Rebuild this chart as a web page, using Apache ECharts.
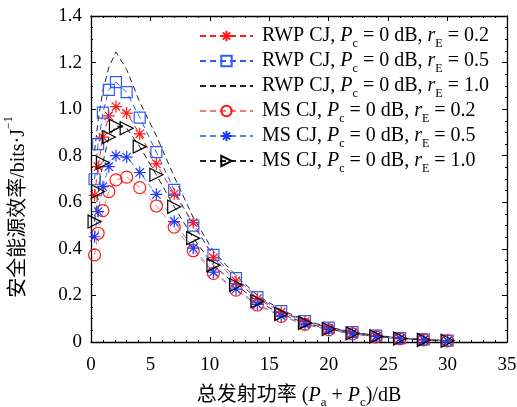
<!DOCTYPE html>
<html lang="zh" style="height: 100%">
<head>
<meta charset="utf-8">
<title>安全能源效率</title>
</head>
<body style="height: 100%; margin: 0; background: #fff">
<div id="container" style="width: 517px; height: 407px"></div>

<script type="text/javascript" src="https://cdn.jsdelivr.net/npm/echarts/dist/echarts.min.js"></script>

<script type="text/javascript">

var dom = document.getElementById('container');
var myChart = echarts.init(dom);

var option;

// x: total transmit power (dB)
var powerDb = [0.3, 0.6, 1, 1.5, 2.1, 3, 4.1, 5.5, 7, 8.6, 10.3, 12.2, 14, 16, 18, 20, 22, 24, 26, 28, 30];

// secure energy efficiency, bits/J
var rwp02 = [0.63, 0.753, 0.88, 0.971, 1.011, 0.983, 0.894, 0.765, 0.635, 0.513, 0.362, 0.262, 0.186, 0.128, 0.088, 0.06, 0.04, 0.026, 0.016, 0.01, 0.005];
var rwp05 = [0.699, 0.85, 0.985, 1.083, 1.116, 1.073, 0.964, 0.815, 0.653, 0.50, 0.374, 0.274, 0.193, 0.133, 0.09, 0.062, 0.042, 0.027, 0.017, 0.011, 0.006];
var rwp10 = [0.82, 0.95, 1.08, 1.18, 1.245, 1.17, 1.03, 0.885, 0.71, 0.535, 0.39, 0.285, 0.2, 0.138, 0.093, 0.064, 0.043, 0.028, 0.018, 0.011, 0.006];
var ms02 = [0.374, 0.467, 0.564, 0.646, 0.696, 0.708, 0.663, 0.584, 0.493, 0.392, 0.295, 0.223, 0.159, 0.11, 0.076, 0.052, 0.035, 0.022, 0.014, 0.009, 0.005];
var ms05 = [0.452, 0.56, 0.667, 0.753, 0.80, 0.794, 0.728, 0.634, 0.517, 0.403, 0.30, 0.227, 0.162, 0.112, 0.077, 0.053, 0.035, 0.023, 0.014, 0.009, 0.005];
var ms10 = [0.517, 0.646, 0.77, 0.88, 0.928, 0.918, 0.839, 0.718, 0.581, 0.446, 0.33, 0.245, 0.175, 0.12, 0.082, 0.056, 0.037, 0.024, 0.015, 0.009, 0.005];

var xTicks = [0, 5, 10, 15, 20, 25, 30, 35];
var yTicks = [0, 0.2, 0.4, 0.6, 0.8, 1.0, 1.2, 1.4];

var FONT = '"Liberation Serif", "Times New Roman", "Noto Sans CJK SC", serif';
var STAR = 'path://M0,-10L0,10M-10,0L10,0M-7,-7L7,7M-7,7L7,-7';
var TRI_RIGHT = 'path://M0,0L16,9L0,18Z';
var NO_MARK = 'path://M0,0L1,0L1,1L0,1Z';

function pairs(ys) {
    return ys.map(function (y, i) { return [powerDb[i], y]; });
}

function makeSeries(name, ys, lineColor, symbol, markColor, size) {
    var hidden = symbol === NO_MARK;
    return {
        name: name,
        type: 'line',
        data: pairs(ys),
        symbol: symbol,
        symbolSize: size,
        showSymbol: !hidden,
        lineStyle: { color: lineColor, width: 1, type: [6, 4] },
        itemStyle: hidden
            ? { color: 'none', borderColor: 'none', borderWidth: 0 }
            : { color: 'none', borderColor: markColor, borderWidth: 1.2 },
        emphasis: { disabled: true },
        animation: false
    };
}

var names = [
    ['RWP CJ', '0.2'], ['RWP CJ', '0.5'], ['RWP CJ', '1.0'],
    ['MS CJ', '0.2'], ['MS CJ', '0.5'], ['MS CJ', '1.0']
];
var seriesNames = names.map(function (n) { return n[0] + ', Pc = 0 dB, rE = ' + n[1]; });

var richText = {
    n: { fontFamily: FONT, fontSize: 20, color: '#000', lineHeight: 20 },
    i: { fontFamily: FONT, fontSize: 20, fontStyle: 'italic', color: '#000', lineHeight: 20 },
    s: { fontFamily: FONT, fontSize: 12, color: '#000', lineHeight: 12, verticalAlign: 'bottom', padding: [0, 0, -4, 0] }
};

option = {
    backgroundColor: '#fff',
    textStyle: { fontFamily: FONT },
    grid: { left: 91, right: 10, top: 16, bottom: 65, outerBoundsMode: 'none', containLabel: false },
    legend: {
        orient: 'vertical',
        left: 199,
        top: 26,
        padding: 0,
        itemWidth: 53,
        itemHeight: 13,
        itemGap: 1,
        data: seriesNames,
        formatter: function (name) {
            var k = seriesNames.indexOf(name);
            return '{n|' + names[k][0] + ', }{i|P}{s|c}{n| = 0 dB, }{i|r}{s|E}{n| = ' + names[k][1] + '}';
        },
        textStyle: { rich: richText, fontSize: 20, padding: [0, 0, 0, 4] }
    },
    xAxis: [{
        type: 'value',
        min: 0, max: 35, interval: 5,
        name: '总发射功率 ({i|P}{s|a}{n| + }{i|P}{s|c}{n|)/dB}',
        nameLocation: 'middle',
        nameGap: 44,
        nameTextStyle: { fontFamily: FONT, fontSize: 20, color: '#000', rich: {
            n: { fontFamily: FONT, fontSize: 20, color: '#000' },
            i: { fontFamily: FONT, fontSize: 20, fontStyle: 'italic', color: '#000' },
            s: { fontFamily: FONT, fontSize: 13, color: '#000', verticalAlign: 'bottom', padding: [0, 0, -3, 0] }
        } },
        axisLine: { onZero: false, lineStyle: { color: '#000', width: 1.3 } },
        axisTick: { inside: true, length: 5, lineStyle: { color: '#000' } },
        minorTick: { show: true, splitNumber: 5, length: 2, lineStyle: { color: '#000' } },
        axisLabel: { fontSize: 19, color: '#000', margin: 14, fontFamily: FONT,
            formatter: function (v) { return xTicks.indexOf(v) >= 0 ? String(v) : ''; } },
        splitLine: { show: false }
    }, {
        type: 'value',
        position: 'top',
        min: 0, max: 35, interval: 5,
        axisLine: { onZero: false, lineStyle: { color: '#000', width: 1.3 } },
        axisTick: { inside: true, length: 5, lineStyle: { color: '#000' } },
        minorTick: { show: true, splitNumber: 5, length: 2, lineStyle: { color: '#000' } },
        axisLabel: { show: false },
        splitLine: { show: false }
    }],
    yAxis: [{
        type: 'value',
        min: 0, max: 1.4, interval: 0.2,
        name: '安全能源效率/bits·J{sup|−1}{gap|}',
        nameLocation: 'middle',
        nameGap: 62,
        nameTextStyle: { fontFamily: FONT, fontSize: 20, color: '#000', rich: {
            sup: { fontFamily: FONT, fontSize: 12, color: '#000', verticalAlign: 'top', padding: [-6, 0, 0, 0] },
            gap: { width: 56 }
        } },
        axisLine: { onZero: false, lineStyle: { color: '#000', width: 1.3 } },
        axisTick: { inside: true, length: 5, lineStyle: { color: '#000' } },
        minorTick: { show: true, splitNumber: 4, length: 2, lineStyle: { color: '#000' } },
        axisLabel: { fontSize: 19, color: '#000', margin: 9, fontFamily: FONT,
            formatter: function (v) {
                var t = yTicks.filter(function (y) { return Math.abs(y - v) < 1e-6; });
                return t.length ? (t[0] === 0 ? '0' : t[0].toFixed(1)) : '';
            } },
        splitLine: { show: false }
    }, {
        type: 'value',
        position: 'right',
        min: 0, max: 1.4, interval: 0.2,
        axisLine: { onZero: false, lineStyle: { color: '#000', width: 1.3 } },
        axisTick: { inside: true, length: 5, lineStyle: { color: '#000' } },
        minorTick: { show: true, splitNumber: 4, length: 2, lineStyle: { color: '#000' } },
        axisLabel: { show: false },
        splitLine: { show: false }
    }],
    series: [
        makeSeries(seriesNames[0], rwp02, '#ff1a1a', STAR, '#ff1a1a', 12),
        makeSeries(seriesNames[1], rwp05, '#2f5cf0', 'rect', '#2f5cf0', 11),
        makeSeries(seriesNames[2], rwp10, '#222', NO_MARK, '#222', 1),
        makeSeries(seriesNames[3], ms02, '#f07878', 'circle', '#ff1a1a', 12),
        makeSeries(seriesNames[4], ms05, '#5a80f0', STAR, '#1e3cf5', 12),
        makeSeries(seriesNames[5], ms10, '#222', TRI_RIGHT, '#000', 13)
    ]
};

if (option && typeof option === 'object') {
    myChart.setOption(option);
}

window.addEventListener('resize', myChart.resize);
</script>
</body>
</html>
